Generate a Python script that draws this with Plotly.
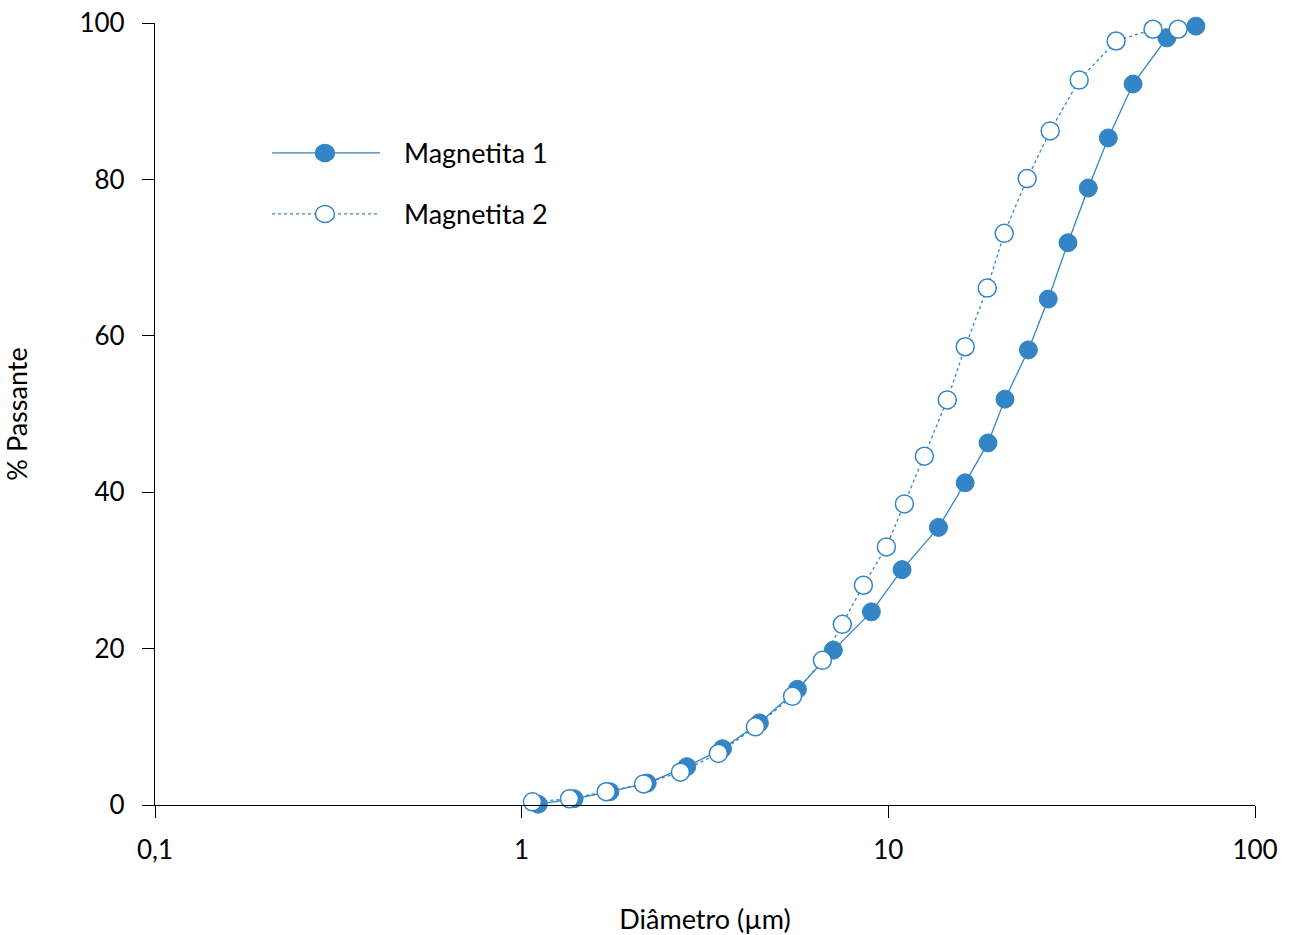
import plotly.graph_objects as go

# Magnetita 1 (filled)
m1_diam = [1.11, 1.39, 1.74, 2.20, 2.82, 3.53, 4.45, 5.65, 7.08, 8.99, 10.9, 13.7,
           16.2, 18.7, 20.8, 24.1, 27.3, 30.9, 35.1, 39.8, 46.5, 57.5, 69.0]
m1_pass = [0.1, 0.8, 1.7, 2.8, 4.9, 7.2, 10.5, 14.8, 19.8, 24.7, 30.1, 35.5,
           41.2, 46.3, 51.9, 58.2, 64.7, 71.9, 78.9, 85.3, 92.2, 98.1, 99.6]

# Magnetita 2 (open)
m2_diam = [1.07, 1.35, 1.70, 2.15, 2.71, 3.44, 4.34, 5.48, 6.61, 7.49, 8.55, 9.88,
           11.06, 12.54, 14.48, 16.21, 18.61, 20.7, 23.91, 27.63, 33.15, 41.8, 52.7, 61.7]
m2_pass = [0.4, 0.8, 1.7, 2.7, 4.2, 6.6, 10.0, 13.9, 18.5, 23.1, 28.1, 33.0,
           38.5, 44.6, 51.8, 58.6, 66.1, 73.1, 80.1, 86.2, 92.7, 97.7, 99.2, 99.2]

x_tickvals = [0.1, 1, 10, 100]
x_ticktext = ["0,1", "1", "10", "100"]
y_tickvals = [0, 20, 40, 60, 80, 100]
series_names = ["Magnetita 1", "Magnetita 2"]

BLUE = "#3385C6"
FONT = "Lato"

fig = go.Figure()
fig.add_trace(go.Scatter(
    x=m1_diam, y=m1_pass, name=series_names[0], mode="lines+markers",
    line=dict(color=BLUE, width=1.3),
    marker=dict(symbol="circle", size=18, color=BLUE, line=dict(color=BLUE, width=1)),
    cliponaxis=False, showlegend=False))
fig.add_trace(go.Scatter(
    x=m2_diam, y=m2_pass, name=series_names[1], mode="lines+markers",
    line=dict(color=BLUE, width=1.3, dash="dot"),
    marker=dict(symbol="circle", size=18, color="white", line=dict(color=BLUE, width=1.5)),
    cliponaxis=False, showlegend=False))

# manual legend (Excel-style long samples)
leg_rows = [(0.8338, "solid", BLUE), (0.7558, "dot", "white")]
for (yy, dash, fill), name in zip(leg_rows, series_names):
    fig.add_shape(type="line", xref="paper", yref="paper", x0=0.1064, x1=0.2045, y0=yy, y1=yy,
                  line=dict(color=BLUE, width=1.3, dash=dash))
    fig.add_shape(type="circle", xref="paper", yref="paper", xsizemode="pixel", ysizemode="pixel",
                  xanchor=0.1545, yanchor=yy, x0=-9.5, x1=9.5, y0=-8.5, y1=8.5,
                  fillcolor=fill, line=dict(color=BLUE, width=1.5))
    fig.add_annotation(xref="paper", yref="paper", x=0.2245, y=yy, text=name, showarrow=False,
                       xanchor="left", yanchor="middle", font=dict(family=FONT, size=27, color="black"))

fig.update_layout(
    width=1290, height=935,
    margin=dict(l=155, r=35, t=23, b=130),
    paper_bgcolor="white", plot_bgcolor="white",
    font=dict(family=FONT, size=26, color="black"),
    showlegend=False,
)
fig.update_xaxes(
    type="log", range=[-1, 2], tickvals=x_tickvals, ticktext=x_ticktext,
    showline=True, linecolor="black", linewidth=1.3, showgrid=False, zeroline=False,
    ticks="outside", ticklen=12, tickcolor="black", tickwidth=1.3,
    tickfont=dict(family=FONT, size=26), ticklabelstandoff=10, automargin=False,
    ticklabeloverflow="allow",
    title=dict(text="Diâmetro (µm)", font=dict(family=FONT, size=27), standoff=47),
)
fig.update_yaxes(
    range=[0, 100], tickvals=y_tickvals,
    showline=True, linecolor="black", linewidth=1.3, showgrid=False, zeroline=False,
    ticks="outside", ticklen=12, tickcolor="black", tickwidth=1.3,
    tickfont=dict(family=FONT, size=26), ticklabelstandoff=12, automargin=False,
    ticklabeloverflow="allow",
    title=dict(text="% Passante", font=dict(family=FONT, size=27), standoff=55),
)

fig.write_html("out.html", config={"displayModeBar": False},
               post_script="document.body.style.margin='0';")
